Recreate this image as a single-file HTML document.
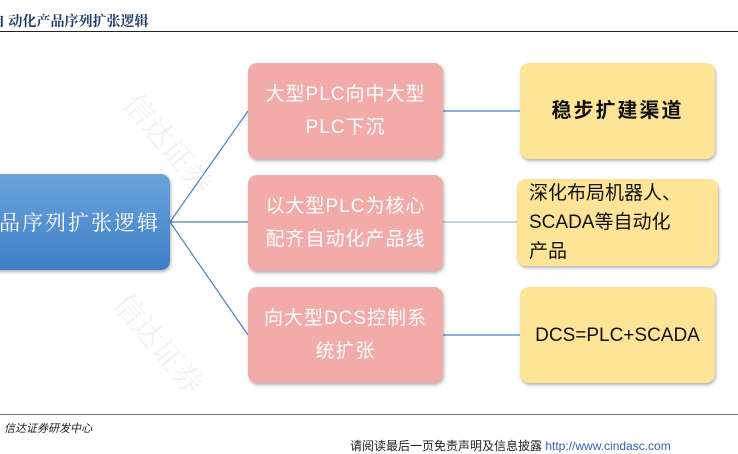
<!DOCTYPE html>
<html><head><meta charset="utf-8"><style>
body{margin:0;width:738px;height:449px;background:#fff;position:relative;overflow:hidden;font-family:"Liberation Sans","Noto Sans CJK SC",sans-serif}
.b{position:absolute;border-radius:9px;box-shadow:1px 2px 3px rgba(0,0,0,.3);display:flex;align-items:center;justify-content:center;text-align:center;font-size:19px;line-height:33px}
.p{background:#f2aba8;color:#fff;left:248px;width:195px;height:96px;letter-spacing:1px}
.y{background:#fde496;color:#111;left:520px;width:195px;height:96px}
.wm{position:absolute;color:rgba(0,0,0,.06);font-size:30px;transform:rotate(50deg);font-family:"Noto Serif CJK SC",serif}
</style></head><body>
<div style="position:absolute;left:-9px;top:11px;font-size:14px;color:#1f3864;font-family:'Noto Serif CJK SC',serif;font-weight:bold;white-space:nowrap">自 动化产品序列扩张逻辑</div>
<div style="position:absolute;left:0;top:31px;width:738px;height:1px;background:#222"></div>
<div class="wm" style="left:110px;top:120px">信达证券</div>
<div class="wm" style="left:100px;top:320px">信达证券</div>
<svg style="position:absolute;left:0;top:0" width="738" height="449">
<g stroke="#4f81bd" stroke-width="1.2" fill="none">
<path d="M170 222 L248 111 M170 222 L248 222 M170 222 L248 335"/>
<path d="M443 111 L520 111 M443 335 L520 335"/>
</g>
<path d="M443 222 L517 222" stroke="#bcd6ee" stroke-width="2"/>
</svg>
<div class="b" style="left:-10px;top:174px;width:180px;height:96px;background:linear-gradient(#6aa3dc,#3f7fc7);color:#fff;font-size:21px;justify-content:flex-end;overflow:hidden;white-space:nowrap"><span style="margin-right:10px;letter-spacing:2px;font-family:'Noto Serif CJK SC',serif">产品序列扩张逻辑</span></div>
<div class="b p" style="top:63px">大型PLC向中大型<br>PLC下沉</div>
<div class="b p" style="top:175px">以大型PLC为核心<br>配齐自动化产品线</div>
<div class="b p" style="top:287px">向大型DCS控制系<br>统扩张</div>
<div class="b y" style="top:63px;font-weight:bold;font-size:20px;letter-spacing:2px">稳步扩建渠道</div>
<div class="b y" style="top:179px;left:517px;width:201px;height:87px;text-align:left;justify-content:flex-start;padding-left:12px;box-sizing:border-box;line-height:29px">深化布局机器人、<br>SCADA等自动化<br>产品</div>
<div class="b y" style="top:287px">DCS=PLC+SCADA</div>
<div style="position:absolute;left:0;top:414px;width:738px;height:1px;background:#777"></div>
<div style="position:absolute;left:4px;top:420px;font-size:11px;font-style:italic;color:#222">信达证券研发中心</div>
<div style="position:absolute;left:350px;top:437px;font-size:12px;color:#222;white-space:nowrap">请阅读最后一页免责声明及信息披露 <span style="color:#2f5fb5">http://www.cindasc.com</span></div>
</body></html>
